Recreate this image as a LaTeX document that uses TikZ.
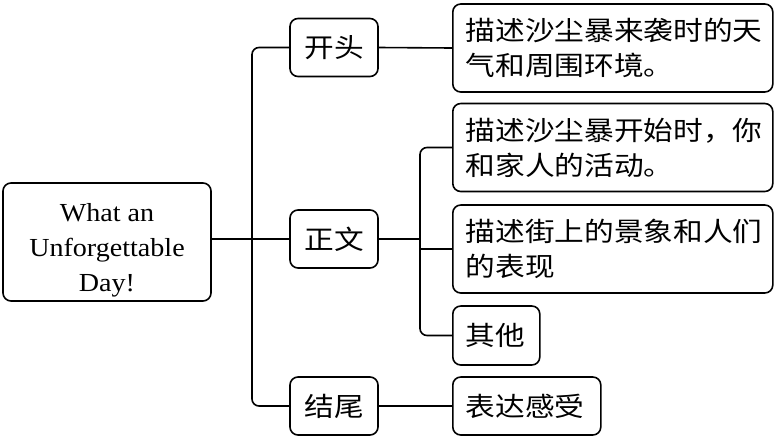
\documentclass[tikz,border=0pt]{standalone}
\usepackage{fontspec}
\setmainfont{Liberation Serif}[FakeStretch=1.08]
\newfontfamily\cjk{Noto Sans CJK SC}[FakeStretch=1.12]
\tikzset{
  box/.style={draw, line width=1.6pt, rounded corners=8pt, inner sep=0pt},
  part/.style={box, minimum width=88pt, minimum height=58pt, font=\cjk\fontsize{26.5}{35}\selectfont},
  note/.style={box, anchor=west, minimum height=88pt, text width=294pt, inner xsep=13pt, align=left, font=\cjk\fontsize{26.5}{35}\selectfont},
  link/.style={line width=1.6pt, rounded corners=7pt}
}
\begin{document}
\begin{tikzpicture}[x=1pt,y=-1pt]
\useasboundingbox (0,0) rectangle (779,440);

\node[box, minimum width=208pt, minimum height=118pt, align=center,
      font=\fontsize{26}{35}\selectfont] (title) at (107,242) {\rule{0pt}{34pt}What an\\Unforgettable\\Day!};

\node[part] (kt) at (334,47.5) {开头};
\node[part] (zw) at (334,239) {正文};
\node[part] (jw) at (334,406) {结尾};

\node[note] (c1) at (452,48) {描述沙尘暴来袭时的天\\气和周围环境。};
\node[note] (c2) at (452,147.5) {描述沙尘暴开始时，你\\和家人的活动。};
\node[note] (c3) at (452,249) {描述街上的景象和人们\\的表现};
\node[note, text width=61pt, minimum height=59pt] (c4) at (452,335.5) {其他};
\node[note, text width=122pt, minimum height=58pt] (c5) at (452,406) {表达感受};

\coordinate (trunk) at (252,0);
\coordinate (fork) at (420,0);

% left tree
\draw[link] (title.east |- zw.west) -- (zw.west);
\draw[link] (kt.west) -| (trunk |- jw.west) -- (jw.west);

% right side
\draw[link] (kt.east) -- (c1.west);
\draw[link] (zw.east) -- (zw.east -| fork);
\draw[link] (c2.west) -| (fork |- c4.west) -- (c4.west);
\draw[link] (fork |- c3.west) -- (c3.west);
\draw[link] (jw.east) -- (c5.west);

\end{tikzpicture}
\end{document}
